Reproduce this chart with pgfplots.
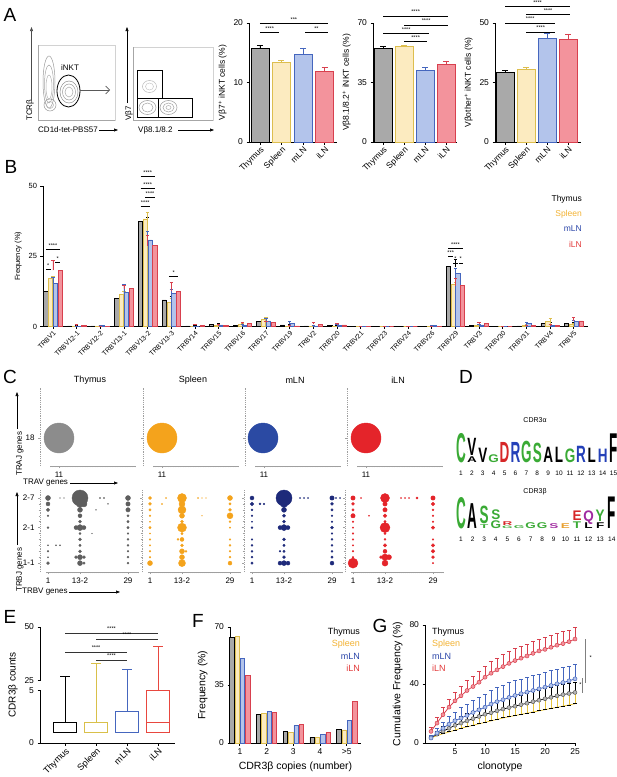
\documentclass[border=0pt]{standalone}
\usepackage{graphicx}
\usepackage{pgfplots}
\pgfplotsset{compat=1.18}
\usepgfplotslibrary{statistics}
\usetikzlibrary{arrows.meta}
\usepackage{fontspec}
\setmainfont{Liberation Sans}

\definecolor{thyF}{HTML}{A9A9A9}
\definecolor{splF}{HTML}{FCEBC0}
\definecolor{splL}{HTML}{DDBE4E}
\definecolor{mlnF}{HTML}{B3C4EB}
\definecolor{mlnL}{HTML}{4566BE}
\definecolor{ilnF}{HTML}{F3939C}
\definecolor{ilnL}{HTML}{D8404E}
\definecolor{legS}{HTML}{F2B233}
\definecolor{legM}{HTML}{2A45A8}
\definecolor{legI}{HTML}{E23A3A}
\definecolor{cThyT}{HTML}{8C8C8C}
\definecolor{cThy}{HTML}{5E5E5E}
\definecolor{cSpl}{HTML}{F4A31C}
\definecolor{cMlnT}{HTML}{2B4AA3}
\definecolor{cMln}{HTML}{1E2A7A}
\definecolor{cIln}{HTML}{E4242A}
\definecolor{lgGreen}{HTML}{3AAA35}
\definecolor{lgRed}{HTML}{D62728}
\definecolor{lgBlue}{HTML}{2440B8}
\definecolor{lgPurple}{HTML}{A02AA0}
\definecolor{lgOrange}{HTML}{E8A030}
\definecolor{eSpl}{HTML}{D9C04A}
\definecolor{eIln}{HTML}{E8473F}
\definecolor{gSpl}{HTML}{E8C53A}
\definecolor{gThyM}{HTML}{B5B5B5}

\pgfplotsset{
  prism/.style={scale only axis, clip=false, anchor=south west,
    axis x line*=bottom, axis y line*=left,
    axis line style={line width=0.8pt}, tick align=outside, major tick length=2.5pt,
    tick style={line width=0.8pt, black},
    /pgf/number format/assume math mode=true,
    tick label style={font=\fontsize{8.5}{9}\selectfont},
    label style={font=\fontsize{8.5}{9}\selectfont}},
  cat4/.style={xtick={0,1,2,3}, xticklabels={Thymus,Spleen,mLN,iLN},
    x tick label style={rotate=45, anchor=north east, inner sep=1pt}},
  abar/.style 2 args={ybar, bar width=18pt, bar shift=0pt, fill=#1, draw=#2, line width=0.8pt,
    error bars/.cd, y dir=plus, y explicit,
    error bar style={#2, line width=0.8pt},
    error mark options={#2, rotate=90, line width=0.8pt, mark size=3pt}},
  bbar/.style n args={3}{ybar, bar width=4.2pt, bar shift=#3, fill=#1, draw=#2, line width=0.6pt,
    error bars/.cd, y dir=plus, y explicit,
    error bar style={#2, line width=0.6pt},
    error mark options={#2, rotate=90, line width=0.6pt, mark size=1.6pt}},
  fbar/.style n args={3}{ybar, bar width=4.3pt, bar shift=#3, fill=#1, draw=#2, line width=0.7pt},
  cpanel/.style={scale only axis, clip=false, anchor=south west,
    axis x line*=bottom, axis y line*=left,
    axis line style={gray!75, line width=0.5pt},
    y axis line style={dash pattern=on 1pt off 0.8pt},
    tick align=outside, major tick length=2pt, minor tick length=1.3pt,
    tick style={gray!75, line width=0.4pt},
    /pgf/number format/assume math mode=true,
    tick label style={font=\fontsize{8}{8}\selectfont}},
  bubble/.style={scatter, only marks, mark=*,
    scatter/use mapped color={draw=#1, fill=#1},
    visualization depends on={\thisrow{r}\as\rr},
    scatter/@pre marker code/.append style={/tikz/mark size=\rr pt}},
}
\newcommand{\sig}{\fontsize{5.5}{5.5}\selectfont}
\newcommand{\LL}[5]{\pgfmathsetmacro{\vs}{#3/7.2}\node[anchor=base, inner sep=0pt, text=#4] at (#1pt,-#2pt) {\scalebox{1.35}[\vs]{\fontsize{10}{10}\selectfont\bfseries #5}};}

\begin{document}
\begin{tikzpicture}
\path[use as bounding box] (0,0) rectangle (617pt,-777pt);

% ---------- panel letters ----------
\begin{scope}[every node/.style={font=\fontsize{19}{19}\selectfont}]
\node at (10pt,-15pt) {A};
\node at (11pt,-167pt) {B};
\node at (10pt,-377pt) {C};
\node at (466pt,-377pt) {D};
\node at (10pt,-617pt) {E};
\node at (198pt,-621pt) {F};
\node at (380pt,-626pt) {G};
\end{scope}

% ---------- A: flow plots ----------
\begin{axis}[scale only axis, clip=false, anchor=south west, at={(38pt,-120pt)}, width=77pt, height=75pt,
  xmin=0, xmax=77, ymin=0, ymax=75, ticks=none, axis line style={gray!35, line width=0.4pt}]
\draw[gray!80, line width=0.5pt] (axis cs:11,38) ellipse [x radius=6, y radius=26];
\draw[gray!70, line width=0.5pt] (axis cs:11,36) ellipse [x radius=4.5, y radius=19];
\draw[gray!60, line width=0.5pt] (axis cs:11,33) ellipse [x radius=3, y radius=12];
\draw[gray!80, line width=0.5pt] (axis cs:12,15) ellipse [x radius=6, y radius=6];
\draw[gray!60, line width=0.5pt] (axis cs:12,15) ellipse [x radius=3.5, y radius=3.5];
\draw[gray!85, line width=0.5pt] (axis cs:31,28) ellipse [x radius=9, y radius=11];
\draw[gray!75, line width=0.5pt] (axis cs:31,28) ellipse [x radius=6.5, y radius=8];
\draw[gray!65, line width=0.5pt] (axis cs:31,28) ellipse [x radius=4, y radius=5];
\draw[black, line width=0.8pt] (axis cs:30.5,29) ellipse [x radius=11.5, y radius=16];
\node[font=\fontsize{8}{8}\selectfont] at (axis cs:32,52) {iNKT};
\draw[gray!70!black, line width=0.6pt, -{Straight Barb[length=4pt]}] (axis cs:42,30) -- (axis cs:72,30);
\draw[gray!70, line width=0.6pt] (axis cs:0,0) -- (axis cs:0,75);
\draw[gray!70, line width=0.6pt] (axis cs:0,0) -- (axis cs:77,0);
\end{axis}
\node[rotate=90, anchor=west, font=\fontsize{8}{8}\selectfont, inner sep=0pt] at (30pt,-121pt) {TCRβ};
\draw[gray!60!black, line width=0.6pt, -{Triangle[length=4pt, width=3pt]}] (31.5pt,-100pt) -- (31.5pt,-27pt);
\node[anchor=west, font=\fontsize{8}{8}\selectfont, inner sep=0pt] at (38pt,-130pt) {CD1d-tet-PBS57};
\draw[black, line width=0.6pt, -{Triangle[length=4pt, width=3pt]}] (99pt,-130pt) -- (118pt,-130pt);

\begin{axis}[scale only axis, clip=false, anchor=south west, at={(133pt,-120pt)}, width=80pt, height=73pt,
  xmin=0, xmax=80, ymin=0, ymax=73, ticks=none, axis line style={gray!35, line width=0.4pt}]
\draw[gray!55, line width=0.5pt] (axis cs:16.5,33.5) ellipse [x radius=7, y radius=6];
\draw[gray!45, line width=0.5pt] (axis cs:16.5,33.5) ellipse [x radius=4, y radius=3.5];
\draw[gray!80, line width=0.5pt] (axis cs:14.5,12.5) ellipse [x radius=8.5, y radius=7];
\draw[gray!70, line width=0.5pt] (axis cs:14.5,12.5) ellipse [x radius=5.5, y radius=4.5];
\draw[gray!80, line width=0.5pt] (axis cs:35.5,12.5) ellipse [x radius=8.5, y radius=7];
\draw[gray!70, line width=0.5pt] (axis cs:35.5,12.5) ellipse [x radius=5.5, y radius=4.5];
\draw[gray!60, line width=0.5pt] (axis cs:35.5,12.5) ellipse [x radius=2.5, y radius=2];
\draw[black, line width=0.8pt] (axis cs:4,22) rectangle (axis cs:29,50);
\draw[black, line width=0.8pt] (axis cs:4,3) rectangle (axis cs:25,22);
\draw[black, line width=0.8pt] (axis cs:25,3) rectangle (axis cs:59,22);
\draw[gray!70, line width=0.6pt] (axis cs:0,0) -- (axis cs:0,73);
\draw[gray!70, line width=0.6pt] (axis cs:0,0) -- (axis cs:80,0);
\end{axis}
\node[rotate=90, anchor=west, font=\fontsize{8}{8}\selectfont, inner sep=0pt] at (129pt,-121pt) {Vβ7};
\draw[black, line width=0.6pt, -{Triangle[length=4pt, width=3pt]}] (127pt,-103pt) -- (127pt,-27pt);
\node[anchor=west, font=\fontsize{8}{8}\selectfont, inner sep=0pt] at (138pt,-130pt) {Vβ8.1/8.2};
\draw[black, line width=0.6pt, -{Triangle[length=4pt, width=3pt]}] (178pt,-130pt) -- (214pt,-130pt);

% ---------- A: bar charts ----------
\begin{axis}[prism, cat4, at={(249pt,-142pt)}, width=88pt, height=119pt,
  xmin=-0.51, xmax=3.58, ymin=0, ymax=20, ytick={0,10,20},
  ylabel={Vβ7\textsuperscript{+} iNKT cells (\%)}]
\addplot[abar={thyF}{black}] coordinates {(0,15.7) +- (0,0.5)};
\addplot[abar={splF}{splL}] coordinates {(1,13.35) +- (0,0.4)};
\addplot[abar={mlnF}{mlnL}] coordinates {(2,14.75) +- (0,1.05)};
\addplot[abar={ilnF}{ilnL}] coordinates {(3,11.8) +- (0,0.8)};
\draw[line width=0.6pt] (axis cs:0,18.4) -- (axis cs:0.9,18.4) node[midway, above=-1.5pt, font=\sig] {****};
\draw[line width=0.6pt] (axis cs:2.1,18.4) -- (axis cs:3.15,18.4) node[midway, above=-1.5pt, font=\sig] {**};
\draw[line width=0.6pt] (axis cs:0,19.9) -- (axis cs:3.15,19.9) node[midway, above=-1.5pt, font=\sig] {***};
\end{axis}

\begin{axis}[prism, cat4, at={(373pt,-142pt)}, width=84pt, height=119pt,
  xmin=-0.48, xmax=3.52, ymin=0, ymax=70, ytick={0,35,70},
  ylabel={Vβ8.1/8.2\textsuperscript{+} iNKT cells (\%)}]
\addplot[abar={thyF}{black}] coordinates {(0,55.2) +- (0,0.8)};
\addplot[abar={splF}{splL}] coordinates {(1,56.4) +- (0,0.6)};
\addplot[abar={mlnF}{mlnL}] coordinates {(2,42.2) +- (0,1.6)};
\addplot[abar={ilnF}{ilnL}] coordinates {(3,45.7) +- (0,2.0)};
\draw[line width=0.6pt] (axis cs:0,74.1) -- (axis cs:3.1,74.1) node[midway, above=-1.5pt, font=\sig] {****};
\draw[line width=0.6pt] (axis cs:1,68.8) -- (axis cs:3.1,68.8) node[midway, above=-1.5pt, font=\sig] {****};
\draw[line width=0.6pt] (axis cs:0,63.9) -- (axis cs:2.2,63.9) node[midway, above=-1.5pt, font=\sig] {****};
\draw[line width=0.6pt] (axis cs:1,59) -- (axis cs:2.1,59) node[midway, above=-1.5pt, font=\sig] {****};
\end{axis}

\begin{axis}[prism, cat4, at={(495pt,-142pt)}, width=86pt, height=119pt,
  xmin=-0.48, xmax=3.62, ymin=0, ymax=50, ytick={0,25,50},
  ylabel={Vβother\textsuperscript{+} iNKT cells (\%)}]
\addplot[abar={thyF}{black}] coordinates {(0,29.3) +- (0,0.8)};
\addplot[abar={splF}{splL}] coordinates {(1,30.7) +- (0,0.6)};
\addplot[abar={mlnF}{mlnL}] coordinates {(2,43.4) +- (0,2.4)};
\addplot[abar={ilnF}{ilnL}] coordinates {(3,43.0) +- (0,2.4)};
\draw[line width=0.6pt] (axis cs:0,57.0) -- (axis cs:3.1,57.0) node[midway, above=-2pt, font=\sig] {****};
\draw[line width=0.6pt] (axis cs:1,53.5) -- (axis cs:3.1,53.5) node[midway, above=-1.5pt, font=\sig] {****};
\draw[line width=0.6pt] (axis cs:0,50) -- (axis cs:2.4,50) node[midway, above=-1.5pt, font=\sig] {****};
\draw[line width=0.6pt] (axis cs:1,46.2) -- (axis cs:2.4,46.2) node[midway, above=-1.5pt, font=\sig] {****};
\end{axis}

% ---------- B ----------
\begin{axis}[prism, at={(43pt,-326.5pt)}, width=545pt, height=140.5pt,
  xmin=-0.42, xmax=22.6, ymin=0, ymax=50, ytick={0,25,50},
  xtick={0,...,22},
  xticklabels={TRBV1,TRBV12-1,TRBV12-2,TRBV13-1,TRBV13-2,TRBV13-3,TRBV14,TRBV15,TRBV16,TRBV17,TRBV19,TRBV2,TRBV20,TRBV21,TRBV23,TRBV24,TRBV26,TRBV29,TRBV3,TRBV30,TRBV31,TRBV4,TRBV5},
  y tick label style={font=\fontsize{7.5}{8}\selectfont},
  x tick label style={rotate=45, anchor=north east, inner sep=1pt, font=\fontsize{6.8}{7}\selectfont},
  label style={font=\fontsize{7.5}{8}\selectfont},
  ylabel={Frequency (\%)}]
\addplot[bbar={thyF}{black}{-7.2pt}] coordinates {
 (0,12.5) +- (0,2) (1,0.2) +- (0,0.1) (2,0.2) +- (0,0.1) (3,10) +- (0,2.5) (4,37.3) +- (0,1.7)
 (5,9.5) +- (0,1.2) (6,0.2) +- (0,0.1) (7,0.8) +- (0,0.3) (8,0.4) +- (0,0.2) (9,1.8) +- (0,1.5)
 (10,0.6) +- (0,0.2) (11,0.2) +- (0,0.1) (12,0.3) +- (0,0.1) (13,0.1) +- (0,0) (14,0) +- (0,0)
 (15,0.1) +- (0,0) (16,0.1) +- (0,0) (17,21.3) +- (0,2.7) (18,0.4) +- (0,0.2) (19,0.1) +- (0,0)
 (20,0.2) +- (0,0.1) (21,1.0) +- (0,0.4) (22,1.0) +- (0,0.6)};
\addplot[bbar={splF}{splL}{-2.4pt}] coordinates {
 (0,17) +- (0,0.8) (1,0) +- (0,0) (2,0.1) +- (0,0) (3,11.3) +- (0,1.2) (4,38.3) +- (0,2.2)
 (5,8.5) +- (0,1.5) (6,0) +- (0,0) (7,0.4) +- (0,0.2) (8,0.7) +- (0,0.3) (9,2.5) +- (0,0.7)
 (10,0.1) +- (0,0) (11,0.1) +- (0,0) (12,0.1) +- (0,0) (13,0.1) +- (0,0) (14,0) +- (0,0)
 (15,0) +- (0,0) (16,0.1) +- (0,0) (17,15) +- (0,0.6) (18,0.3) +- (0,0.2) (19,0) +- (0,0)
 (20,0.5) +- (0,0.2) (21,1.8) +- (0,1.2) (22,0.8) +- (0,0.3)};
\addplot[bbar={mlnF}{mlnL}{2.4pt}] coordinates {
 (0,15.3) +- (0,2.2) (1,0) +- (0,0) (2,0.3) +- (0,0.1) (3,12.2) +- (0,2.8) (4,30.8) +- (0,3.2)
 (5,11.8) +- (0,1.5) (6,0) +- (0,0) (7,0.6) +- (0,0.3) (8,0.5) +- (0,0.2) (9,2) +- (0,1)
 (10,1) +- (0,0.7) (11,0.2) +- (0,0.1) (12,0.5) +- (0,0.3) (13,0.1) +- (0,0) (14,0) +- (0,0)
 (15,0.1) +- (0,0) (16,0.3) +- (0,0.1) (17,19) +- (0,1.8) (18,0.6) +- (0,0.2) (19,0) +- (0,0)
 (20,1) +- (0,0.6) (21,0.5) +- (0,0.2) (22,1.8) +- (0,0.5)};
\addplot[bbar={ilnF}{ilnL}{7.2pt}] coordinates {
 (0,20) +- (0,3.5) (1,0.5) +- (0,0.2) (2,0.1) +- (0,0) (3,13.5) +- (0,1) (4,28.8) +- (0,3.5)
 (5,12.5) +- (0,3.3) (6,0.5) +- (0,0.3) (7,0.5) +- (0,0.2) (8,1) +- (0,0.5) (9,1.5) +- (0,0.5)
 (10,0.2) +- (0,0.1) (11,0.8) +- (0,0.7) (12,0.6) +- (0,0.6) (13,0.1) +- (0,0) (14,0) +- (0,0)
 (15,0) +- (0,0) (16,0.1) +- (0,0) (17,14.5) +- (0,2.7) (18,1) +- (0,0.5) (19,0) +- (0,0)
 (20,0.3) +- (0,0.1) (21,0.5) +- (0,0.2) (22,2) +- (0,1.2)};
% significance
\draw[line width=0.6pt] (axis cs:-0.3,20.3) -- (axis cs:-0.1,20.3) node[midway, above=-1.5pt, font=\sig] {*};
\draw[line width=0.6pt] (axis cs:-0.3,27.3) -- (axis cs:0.3,27.3) node[midway, above=-1.5pt, font=\sig] {****};
\draw[line width=0.6pt] (axis cs:0.1,22.7) -- (axis cs:0.3,22.7) node[midway, above=-1.5pt, font=\sig] {*};
\draw[line width=0.6pt] (axis cs:3.7,53.4) -- (axis cs:4.3,53.4) node[midway, above=-1.5pt, font=\sig] {****};
\draw[line width=0.6pt] (axis cs:3.7,49.1) -- (axis cs:4.3,49.1) node[midway, above=-1.5pt, font=\sig] {****};
\draw[line width=0.6pt] (axis cs:3.9,45.9) -- (axis cs:4.3,45.9) node[midway, above=-1.5pt, font=\sig] {****};
\draw[line width=0.6pt] (axis cs:3.7,42.8) -- (axis cs:4.1,42.8) node[midway, above=-1.5pt, font=\sig] {****};
\draw[line width=0.6pt] (axis cs:4.9,17.7) -- (axis cs:5.3,17.7) node[midway, above=-1.5pt, font=\sig] {*};
\draw[line width=0.6pt] (axis cs:16.7,27.7) -- (axis cs:17.3,27.7) node[midway, above=-1.5pt, font=\sig] {****};
\draw[line width=0.6pt] (axis cs:16.7,24.9) -- (axis cs:16.9,24.9) node[midway, above=-1.5pt, font=\sig] {***};
\draw[line width=0.6pt] (axis cs:16.9,22.6) -- (axis cs:17.1,22.6) node[midway, above=-1.5pt, font=\sig] {*};
\draw[line width=0.6pt] (axis cs:17.15,22.6) -- (axis cs:17.3,22.6) node[midway, above=-1.5pt, font=\sig] {*};
\end{axis}
\begin{scope}[every node/.style={anchor=east, font=\fontsize{8.5}{9}\selectfont, inner sep=0pt}]
\node[text=black] at (582pt,-199pt) {Thymus};
\node[text=legS] at (582pt,-214pt) {Spleen};
\node[text=legM] at (582pt,-229pt) {mLN};
\node[text=legI] at (582pt,-244pt) {iLN};
\end{scope}

% ---------- C ----------
\begin{scope}[every node/.style={font=\fontsize{9}{9}\selectfont}]
\node at (90pt,-380pt) {Thymus};
\node at (193pt,-380pt) {Spleen};
\node at (295pt,-380pt) {mLN};
\node at (398pt,-380pt) {iLN};
\end{scope}
% top row
\begin{axis}[cpanel, at={(40pt,-466pt)}, width=100pt, height=79pt, xmin=0, xmax=100, ymin=0, ymax=79,
  xtick={19}, xticklabels={11}, ytick={28}, yticklabels={18}, minor xtick={10,12.5,...,95},
  x axis line style={shorten <=10pt, shorten >=5pt}]
\addplot[bubble=cThyT] table[x=x,y=y] {
x y r
19 28 15
};
\end{axis}
\begin{axis}[cpanel, at={(143pt,-466pt)}, width=100pt, height=79pt, xmin=0, xmax=100, ymin=0, ymax=79,
  xtick={19}, xticklabels={11}, ytick={28}, yticklabels={}, minor xtick={10,12.5,...,95},
  x axis line style={shorten <=10pt, shorten >=5pt}]
\addplot[bubble=cSpl] table[x=x,y=y] {
x y r
19 28 15
};
\end{axis}
\begin{axis}[cpanel, at={(245pt,-466pt)}, width=100pt, height=79pt, xmin=0, xmax=100, ymin=0, ymax=79,
  xtick={19}, xticklabels={11}, ytick={28}, yticklabels={}, minor xtick={10,12.5,...,95},
  x axis line style={shorten <=10pt, shorten >=5pt}]
\addplot[bubble=cMlnT] table[x=x,y=y] {
x y r
18 28 15
};
\end{axis}
\begin{axis}[cpanel, at={(347pt,-466pt)}, width=100pt, height=79pt, xmin=0, xmax=100, ymin=0, ymax=79,
  xtick={19}, xticklabels={11}, ytick={28}, yticklabels={}, minor xtick={10,12.5,...,95},
  x axis line style={shorten <=10pt, shorten >=5pt}]
\addplot[bubble=cIln] table[x=x,y=y] {
x y r
19 28 15
};
\end{axis}
\node[anchor=west, font=\fontsize{8}{8}\selectfont, inner sep=0pt] at (23pt,-483pt) {TRAV genes};
\draw[black, line width=0.6pt, -{Triangle[length=4pt, width=3pt]}] (70pt,-483pt) -- (118pt,-483pt);
\node[rotate=90, anchor=west, font=\fontsize{8}{8}\selectfont, inner sep=0pt] at (20pt,-476pt) {TRAJ genes};
\draw[black, line width=0.6pt, -{Triangle[length=4pt, width=3pt]}] (17pt,-429pt) -- (17pt,-392pt);
% bottom row
\begin{axis}[cpanel, at={(40pt,-572pt)}, width=100pt, height=82pt, xmin=-2, xmax=23, ymin=-1.5, ymax=12.35,
  xtick={0,8,20}, xticklabels={1,13-2,29}, minor xtick={-0.5,0,...,22.5},
  ytick={0,6,11}, yticklabels={1-1,2-1,2-7}, minor ytick={0,...,11},
  x axis line style={shorten <=6pt, shorten >=2pt}]
\addplot[bubble=cThy] table[x=x,y=y] {
x y r
0 11 2.5
0 10 2
0 9 1.8
0 8 0.8
0 6 1
0 3 0.6
0 2 0.8
0 1 0.6
0 0 1.5
3 11 0.4
4 11 0.4
2 3 0.6
3 3 0.6
8 11 8
9 10 3
8 10 3.5
8 9 2.5
8 8 2
8 7 1.5
8 6 3
7 6 2
9 6 2
8 5 1
8 4 1.5
8 3 1.2
8 2 1.5
8 1 2.5
7 1 1.5
9 1 1.5
8 0 2.5
9 0 1.2
13 11 0.6
14 11 0.6
15 10 0.5
12 9 0.4
11 5 0.4
20 11 2.5
20 10 2.2
20 9 2.2
20 8 1.2
20 7 1.2
20 6 1.2
20 5 0.8
20 4 1
20 3 1
20 2 0.8
20 1 1
20 0 1
};
\end{axis}
\begin{axis}[cpanel, at={(142pt,-572pt)}, width=100pt, height=82pt, xmin=-2, xmax=23, ymin=-1.5, ymax=12.35,
  xtick={0,8,20}, xticklabels={1,13-2,29}, minor xtick={-0.5,0,...,22.5},
  ytick={0,6,11}, yticklabels={}, minor ytick={0,...,11},
  x axis line style={shorten <=6pt, shorten >=2pt}]
\addplot[bubble=cSpl] table[x=x,y=y] {
x y r
0 11 1.5
0 10 1.5
0 9 1.2
0 8 0.8
0 7 0.6
0 6 1.2
0 5 0.6
0 4 0.8
0 3 0.8
0 2 0.8
0 1 0.8
0 0 2.5
4 11 0.5
3 10 0.6
12 11 0.5
13 11 0.4
14 11 0.4
13 8 0.4
8 11 4.5
8 10 3
8 9 4
8 8 2.5
8 7 1.5
8 6 4.5
8 5 1.2
8 4 2
7 4 1
8 3 1.5
8 2 2.5
9 2 1
8 1 2.5
8 0 3.5
20 11 2.5
20 10 1.2
20 9 1.5
20 8 3
20 7 1
20 6 0.8
20 4 0.8
20 3 1
20 2 0.8
20 1 1
20 0 2
};
\end{axis}
\begin{axis}[cpanel, at={(244pt,-572pt)}, width=100pt, height=82pt, xmin=-2, xmax=23, ymin=-1.5, ymax=12.35,
  xtick={0,8,20}, xticklabels={1,13-2,29}, minor xtick={-0.5,0,...,22.5},
  ytick={0,6,11}, yticklabels={}, minor ytick={0,...,11},
  x axis line style={shorten <=6pt, shorten >=2pt}]
\addplot[bubble=cMln] table[x=x,y=y] {
x y r
0 11 2
0 10 1.8
0 9 1
0 8 0.8
0 7 0.6
0 6 1
0 4 0.8
0 3 1
0 2 1
0 1 1
0 0 1.2
2 10 1
3 10 0.8
12 11 0.5
13 11 0.5
14 11 0.5
8 11 8
8 10 3.5
8 9 2.5
8 8 1.5
8 7 1.5
8 6 3
7 6 2
9 6 2
8 4 1.5
8 3 1.2
8 2 1.2
7 2 0.8
8 1 1.5
8 0 2.5
7 0 2
9 0 2
20 11 2.2
21 11 0.6
22 11 0.5
20 10 1.5
20 9 1.2
20 8 0.8
20 7 0.8
20 6 1.5
20 5 0.8
20 4 1
20 3 1
20 2 1
20 1 1.2
20 0 2
};
\end{axis}
\begin{axis}[cpanel, at={(345pt,-572pt)}, width=100pt, height=82pt, xmin=-2, xmax=23, ymin=-1.5, ymax=12.35,
  xtick={0,8,20}, xticklabels={1,13-2,29}, minor xtick={-0.5,0,...,22.5},
  ytick={0,6,11}, yticklabels={}, minor ytick={0,...,11},
  x axis line style={shorten <=6pt, shorten >=2pt}]
\addplot[bubble=cIln] table[x=x,y=y] {
x y r
0 11 2.2
0 10 1.5
0 9 1.2
0 8 2.2
0 7 0.8
0 6 0.8
0 5 0.8
0 4 0.8
0 3 0.8
0 2 0.8
0 1 0.8
0 0 5
2 11 0.5
4 8 0.5
12 11 0.5
13 11 0.5
14 11 0.5
16 11 1
8 11 4.5
8 10 2.2
8 9 2.2
8 8 1.8
8 7 1.2
8 6 5
8 5 1
8 4 1
8 3 1.8
8 2 2
8 1 3.2
9 1 2.5
7 1 1.5
8 0 3
20 11 2.2
20 10 1.8
20 9 1
20 8 0.8
20 7 0.8
20 6 1.8
20 4 0.8
20 3 1.8
20 2 1.8
20 1 1.5
20 0 0.8
};
\end{axis}
\node[anchor=west, font=\fontsize{8}{8}\selectfont, inner sep=0pt] at (22pt,-592pt) {TRBV genes};
\draw[black, line width=0.6pt, -{Triangle[length=4pt, width=3pt]}] (69pt,-592pt) -- (120pt,-592pt);
\node[rotate=90, anchor=west, font=\fontsize{8}{8}\selectfont, inner sep=0pt] at (20pt,-592pt) {TRBJ genes};
\draw[black, line width=0.6pt, -{Triangle[length=4pt, width=3pt]}] (17pt,-545pt) -- (17pt,-492pt);

% ---------- D: sequence logos ----------
\node[font=\fontsize{7}{7}\selectfont] at (535pt,-420pt) {CDR3α};
\LL{461}{462}{30}{lgGreen}{C}
\LL{471.9}{462}{6}{black}{A}
\LL{471.9}{455.5}{18}{black}{V}
\LL{482.8}{462}{15}{black}{V}
\LL{493.7}{462}{8}{lgGreen}{G}
\LL{504.6}{462}{21}{lgRed}{D}
\LL{515.5}{462}{21}{lgBlue}{R}
\LL{526.4}{462}{22}{lgGreen}{G}
\LL{537.3}{462}{20}{lgGreen}{S}
\LL{548.2}{462}{16}{black}{A}
\LL{559.1}{462}{16}{black}{L}
\LL{570}{462}{14}{lgGreen}{G}
\LL{580.9}{462}{17}{lgBlue}{R}
\LL{591.8}{462}{15}{black}{L}
\LL{602.7}{462}{14}{lgBlue}{H}
\LL{613.6}{462}{30}{black}{F}
\foreach \i [evaluate=\i as \xx using 461+(\i-1)*10.9] in {1,...,15}{
  \node[font=\fontsize{6.5}{6.5}\selectfont, inner sep=0pt] at (\xx pt,-473pt) {\i};
}
\node[font=\fontsize{7}{7}\selectfont] at (535pt,-492pt) {CDR3β};
\LL{461}{528}{32}{lgGreen}{C}
\LL{472.6}{528}{26}{black}{A}
\LL{484.2}{528}{4}{lgGreen}{T}
\LL{484.2}{523.5}{18}{lgGreen}{S}
\LL{495.8}{528}{8}{lgGreen}{G}
\LL{495.8}{519.5}{10}{lgGreen}{S}
\LL{507.4}{528}{2.5}{lgGreen}{G}
\LL{507.4}{525}{4}{lgRed}{R}
\LL{519}{528}{3}{lgGreen}{G}
\LL{530.6}{528}{6}{lgGreen}{G}
\LL{542.2}{528}{6}{lgGreen}{G}
\LL{553.8}{528}{5}{lgPurple}{S}
\LL{565.4}{528}{5}{lgOrange}{E}
\LL{577}{528}{7}{lgGreen}{T}
\LL{577}{520.5}{10}{lgRed}{E}
\LL{588.6}{528}{6}{black}{L}
\LL{588.6}{521.5}{11}{lgPurple}{Q}
\LL{600.2}{528}{6}{black}{F}
\LL{600.2}{521.5}{12}{lgGreen}{Y}
\LL{611.8}{528}{33}{black}{F}
\foreach \i [evaluate=\i as \xx using 461+(\i-1)*11.6] in {1,...,14}{
  \node[font=\fontsize{6.5}{6.5}\selectfont, inner sep=0pt] at (\xx pt,-539pt) {\i};
}

% ---------- E ----------
\begin{axis}[prism, at={(40pt,-743pt)}, width=135pt, height=116pt,
  xmin=0.19, xmax=4.55, ymin=0, ymax=11.02,
  ytick={0,5,5.92,11.02}, yticklabels={0,5,25,50},
  xtick={1,2,3,4}, xticklabels={Thymus,Spleen,mLN,iLN},
  x tick label style={rotate=45, anchor=north east, inner sep=1pt, font=\fontsize{9}{9}\selectfont},
  y axis line style={draw=none},
  label style={font=\fontsize{10}{10}\selectfont},
  ylabel={CDR3β counts}, boxplot/draw direction=y]
\addplot[black, line width=0.9pt, fill=white, boxplot prepared={draw position=1, lower whisker=1, lower quartile=1, median=1, upper quartile=2, upper whisker=6.33, box extend=0.74, whisker extend=0.32}] coordinates {};
\addplot[eSpl, line width=0.9pt, fill=white, boxplot prepared={draw position=2, lower whisker=1, lower quartile=1, median=1, upper quartile=2, upper whisker=7.59, box extend=0.74, whisker extend=0.32}] coordinates {};
\addplot[mlnL, line width=0.9pt, fill=white, boxplot prepared={draw position=3, lower whisker=1, lower quartile=1, median=1, upper quartile=3, upper whisker=6.96, box extend=0.74, whisker extend=0.32}] coordinates {};
\addplot[eIln, line width=0.9pt, fill=white, boxplot prepared={draw position=4, lower whisker=1, lower quartile=1, median=2, upper quartile=5, upper whisker=9.18, box extend=0.74, whisker extend=0.32}] coordinates {};
\draw[line width=0.8pt] (axis cs:0.19,0) -- (axis cs:0.19,5);
\draw[line width=0.8pt] (axis cs:0.19,5.92) -- (axis cs:0.19,11.02);
\draw[line width=0.6pt, gray!40!black] (axis cs:1,10.45) -- (axis cs:4,10.45) node[midway, above=-1.5pt, font=\sig, black] {****};
\draw[line width=0.6pt, gray!40!black] (axis cs:2,9.88) -- (axis cs:4,9.88) node[midway, above=-1.5pt, font=\sig, black] {****};
\draw[line width=0.6pt, gray!40!black] (axis cs:1,8.64) -- (axis cs:3,8.64) node[midway, above=-1.5pt, font=\sig, black] {****};
\draw[line width=0.6pt, gray!40!black] (axis cs:2,7.88) -- (axis cs:3,7.88) node[midway, above=-1.5pt, font=\sig, black] {****};
\end{axis}

% ---------- F ----------
\begin{axis}[prism, at={(230pt,-743pt)}, width=131pt, height=116pt,
  xmin=-0.37, xmax=4.53, ymin=0, ymax=70, ytick={0,35,70},
  xtick={0,...,4}, xticklabels={1,2,3,4,>5},
  label style={font=\fontsize{10.5}{11}\selectfont},
  xlabel={CDR3β copies (number)}, ylabel={Frequency (\%)}]
\addplot[fbar={thyF}{black}{-7.95pt}] coordinates {(0,63.6) (1,17.4) (2,7.0) (3,3.4) (4,8.0)};
\addplot[fbar={splF}{splL}{-2.65pt}] coordinates {(0,64.4) (1,17.8) (2,6.6) (3,3.4) (4,7.9)};
\addplot[fbar={mlnF}{mlnL}{2.65pt}] coordinates {(0,51.0) (1,19.2) (2,10.6) (3,5.4) (4,13.4)};
\addplot[fbar={ilnF}{ilnL}{7.95pt}] coordinates {(0,40.6) (1,18.6) (2,11.2) (3,6.2) (4,25.2)};
\end{axis}
\begin{scope}[every node/.style={anchor=east, font=\fontsize{9}{9}\selectfont, inner sep=0pt}]
\node[text=black] at (360pt,-632pt) {Thymus};
\node[text=legS] at (360pt,-644pt) {Spleen};
\node[text=legM] at (360pt,-656pt) {mLN};
\node[text=legI] at (360pt,-668pt) {iLN};
\end{scope}

% ---------- G ----------
\begin{axis}[prism, at={(425pt,-743pt)}, width=150pt, height=118pt,
  xmin=0, xmax=25, ymin=0, ymax=80, ytick={0,40,80}, xtick={5,10,...,25},
  label style={font=\fontsize{10.5}{11}\selectfont},
  xlabel={clonotype}, ylabel={Cumulative Frequency (\%)}]
\addplot[draw=gSpl, line width=0.8pt, mark=-, mark size=2.2pt, mark options={black, line width=0.9pt, solid},
  error bars/.cd, y dir=plus, y explicit, error bar style={gSpl, line width=0.7pt},
  error mark options={gSpl, rotate=90, line width=0.7pt, mark size=2.2pt}] coordinates {
 (1,3.5) +- (0,1) (2,5) +- (0,2) (3,6.3) +- (0,2.5) (4,7.5) +- (0,3) (5,8.7) +- (0,3.5)
 (6,10) +- (0,4) (7,11) +- (0,4.5) (8,12) +- (0,5) (9,13) +- (0,5) (10,14) +- (0,5.5)
 (11,15) +- (0,5.5) (12,16) +- (0,6) (13,17) +- (0,6) (14,17.8) +- (0,6.5) (15,18.6) +- (0,6.5)
 (16,19.4) +- (0,7) (17,20.2) +- (0,7) (18,21) +- (0,7) (19,21.8) +- (0,7.5) (20,22.6) +- (0,7.5)
 (21,23.4) +- (0,7.5) (22,24.2) +- (0,8) (23,25) +- (0,8) (24,25.8) +- (0,8) (25,26.6) +- (0,8)};
\addplot[draw=black, line width=0.7pt, mark=*, mark size=2pt, mark options={fill=gThyM, draw=gray!60!black, line width=0.4pt, solid},
  error bars/.cd, y dir=plus, y explicit, error bar style={black, line width=0.7pt},
  error mark options={black, rotate=90, line width=0.7pt, mark size=2.2pt}] coordinates {
 (1,3.5) +- (0,1) (2,6) +- (0,2) (3,8) +- (0,3) (4,10) +- (0,3.5) (5,12) +- (0,4)
 (6,13.5) +- (0,4.5) (7,15) +- (0,5) (8,16.5) +- (0,5) (9,18) +- (0,5.5) (10,19.5) +- (0,5.5)
 (11,20.5) +- (0,6) (12,21.8) +- (0,6) (13,23) +- (0,6) (14,24) +- (0,6.5) (15,25) +- (0,6.5)
 (16,26) +- (0,6.5) (17,27) +- (0,7) (18,28) +- (0,7) (19,29) +- (0,7) (20,30) +- (0,7)
 (21,31) +- (0,7) (22,32) +- (0,7) (23,32.8) +- (0,7) (24,33.6) +- (0,7) (25,34.3) +- (0,7)};
\addplot[draw=mlnL, line width=0.8pt, mark=*, mark size=2pt, mark options={fill=mlnF, draw=mlnL, line width=0.5pt, solid},
  error bars/.cd, y dir=plus, y explicit, error bar style={mlnL, line width=0.7pt},
  error mark options={mlnL, rotate=90, line width=0.7pt, mark size=2.2pt}] coordinates {
 (1,3.4) +- (0,1.5) (2,6.8) +- (0,3) (3,10) +- (0,4) (4,12.8) +- (0,5) (5,15.1) +- (0,6)
 (6,16.9) +- (0,7) (7,18.7) +- (0,7.5) (8,20.7) +- (0,8) (9,22.5) +- (0,8.5) (10,24.3) +- (0,9)
 (11,26.4) +- (0,9) (12,28) +- (0,9.5) (13,29.3) +- (0,9.5) (14,30.9) +- (0,10) (15,32.2) +- (0,10)
 (16,33.4) +- (0,10) (17,34.5) +- (0,10) (18,35.6) +- (0,10) (19,36.7) +- (0,10) (20,37.9) +- (0,10)
 (21,39) +- (0,10) (22,40.1) +- (0,10) (23,41) +- (0,10) (24,42.1) +- (0,10) (25,43.5) +- (0,10)};
\addplot[draw=ilnL, line width=0.8pt, mark=*, mark size=2pt, mark options={fill=ilnF, draw=ilnL, line width=0.5pt, solid},
  error bars/.cd, y dir=plus, y explicit, error bar style={ilnL, line width=0.7pt},
  error mark options={ilnL, rotate=90, line width=0.7pt, mark size=2.2pt}] coordinates {
 (1,7.9) +- (0,3) (2,13.5) +- (0,4) (3,19.2) +- (0,5) (4,24.3) +- (0,5.5) (5,28.6) +- (0,6)
 (6,32) +- (0,6.5) (7,35.6) +- (0,7) (8,38.3) +- (0,7) (9,41.2) +- (0,7.5) (10,44.6) +- (0,7.5)
 (11,47.3) +- (0,8) (12,49.6) +- (0,8) (13,51.8) +- (0,8) (14,54) +- (0,8) (15,55.9) +- (0,8)
 (16,57.5) +- (0,8) (17,59) +- (0,8) (18,60.8) +- (0,8) (19,62.4) +- (0,8) (20,63.5) +- (0,8)
 (21,64.9) +- (0,8) (22,66.3) +- (0,8) (23,67.4) +- (0,8) (24,68.7) +- (0,8) (25,70.5) +- (0,8)};
\draw[gray, line width=0.8pt] (axis cs:26.8,70.5) -- (axis cs:26.8,41);
\node[font=\sig] at (axis cs:27.6,58) {*};
\draw[gray, line width=0.8pt] (axis cs:26.3,44) -- (axis cs:26.3,34);
\node[font=\sig] at (axis cs:25.9,39.5) {*};
\end{axis}
\begin{scope}[every node/.style={anchor=west, font=\fontsize{9}{9}\selectfont, inner sep=0pt}]
\node[text=black] at (432pt,-632pt) {Thymus};
\node[text=legS] at (432pt,-644pt) {Spleen};
\node[text=legM] at (432pt,-656pt) {mLN};
\node[text=legI] at (432pt,-668pt) {iLN};
\end{scope}

\end{tikzpicture}
\end{document}
